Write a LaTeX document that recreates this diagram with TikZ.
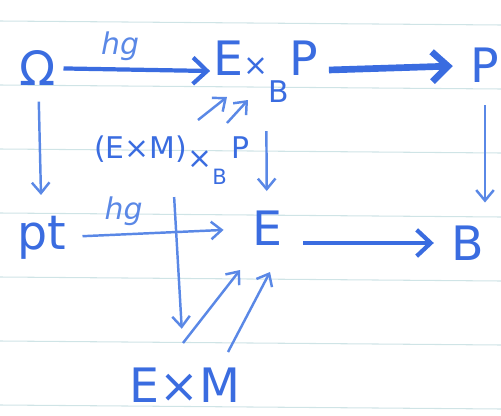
\documentclass[tikz,border=0pt]{standalone}
\usepackage{fontspec}
\setmainfont{DejaVu Sans}
\definecolor{ink}{HTML}{3A6CE0}
\definecolor{inklight}{HTML}{5A88E6}
\definecolor{paperrule}{HTML}{CFE4E6}
\usetikzlibrary{arrows.meta, positioning}

\begin{document}
\begin{tikzpicture}[x=0.02cm, y=-0.02cm,
  obj/.style={text=ink, font=\fontsize{27}{30}\selectfont, inner sep=2pt},
  fibobj/.style={text=ink, font=\fontsize{17}{20}\selectfont, inner sep=2pt},
  lbl/.style={text=inklight, font=\itshape\fontsize{17}{19}\selectfont, inner sep=1pt},
  map/.style={draw=inklight, line width=1.4pt, -{Straight Barb[length=6pt, width=10pt]}},
  midmap/.style={draw=ink, line width=2.4pt, -{Straight Barb[length=8pt, width=15pt]}},
  bigmap/.style={draw=ink, line width=3.8pt, -{Straight Barb[length=9pt, width=17pt]}},
]
  \useasboundingbox (0,0) rectangle (501,416);
  \foreach \y in {23,87,151,215,279,343,407}
    \draw[paperrule, line width=0.6pt] (0,\y-2) -- (501,\y+2);

  \node[obj] (om) at (38,68) {Ω};
  \node[obj] (exbp) at (266,72)
    {E{\fontsize{17}{17}\selectfont×\raisebox{-0.9em}{B}}P};
  \node[obj] (p) at (485,65) {P};
  \node[obj] (pt) at (42,238) {pt};
  \node[obj] (e) at (267,228) {E};
  \node[obj] (b) at (468,243) {B};
  \node[fibobj] (fib) at (172,160)
    {(E×M)\raisebox{-0.6ex}{×}\raisebox{-1.6ex}{\fontsize{12}{12}\selectfont B}\,P};
  \node[obj] (exm) at (185,385) {E×M};

  \draw[midmap, shorten <=2pt] (om) -- node[lbl, pos=0.4, above=3pt] {hg} (exbp);
  \draw[bigmap, shorten <=4pt, shorten >=8pt] (exbp) -- (p);
  \draw[map, shorten <=11pt, shorten >=11pt] (p.south) -- (p.south |- b.north);
  \draw[midmap, shorten <=10pt, shorten >=8pt] (e.east |- b) -- (b.west);
  \draw[map, shorten <=7pt, shorten >=10pt] (om) -- (pt);
  \draw[map, shorten <=7pt, shorten >=14pt] (pt) -- node[lbl, pos=0.3, above=3pt] {hg} (e);
  \draw[map, shorten <=14pt, shorten >=9pt] (exbp) -- (e);
  \draw[map, shorten <=5pt, shorten >=20pt] (fib) -- (exm);

  \draw[map] ([shift={(26,-40)}]fib.center) -- ([shift={(-39,25)}]exbp.center);
  \draw[map] ([shift={(55,-37)}]fib.center) -- ([shift={(-18,28)}]exbp.center);
  \draw[map] ([shift={(-2,-42)}]exm.center) -- ([shift={(-27,42)}]e.center);
  \draw[map] ([shift={(43,-33)}]exm.center) -- ([shift={(3,44)}]e.center);
\end{tikzpicture}
\end{document}
